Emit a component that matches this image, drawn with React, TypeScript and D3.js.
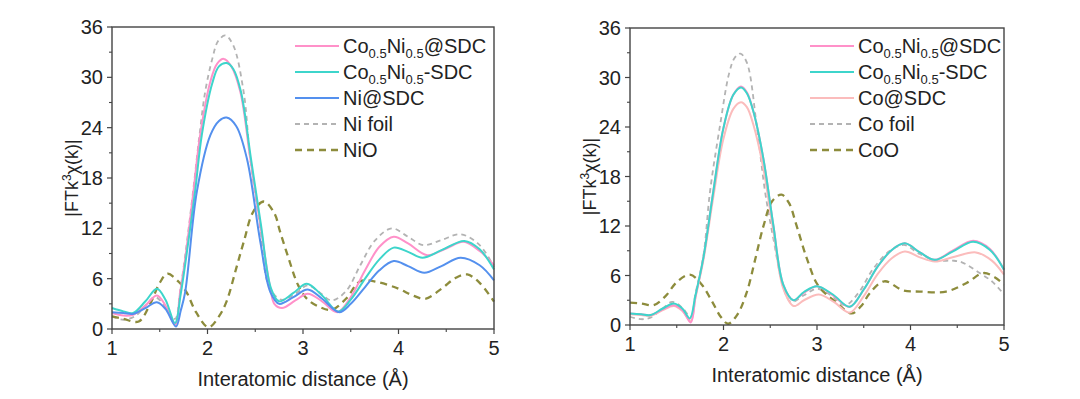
import * as d3 from "d3";
import { useEffect } from "react";

type Pt = [number, number];

// left panel: Ni K-edge
const niCoNiAt: Pt[] = [
  [1.0, 1.9], [1.12, 1.6], [1.22, 1.7], [1.35, 2.8], [1.47, 4.0], [1.56, 2.8], [1.66, 0.5],
  [1.714, 4.4], [1.767, 8.4], [1.853, 16.4], [1.923, 23.1], [2.03, 29.5], [2.1, 31.6], [2.17, 32.2],
  [2.25, 31.3], [2.343, 28.3], [2.448, 20.3], [2.553, 12.4], [2.658, 4.85], [2.7, 3.0], [2.78, 2.5],
  [2.92, 3.4], [3.05, 4.2], [3.2, 3.3], [3.36, 2.0], [3.5, 3.8], [3.65, 7.0], [3.8, 9.8], [3.95, 11.0],
  [4.1, 10.2], [4.3, 8.8], [4.5, 9.6], [4.68, 10.4], [4.85, 9.3], [5.0, 7.6],
];
const niCoNiDash: Pt[] = [
  [1.0, 2.5], [1.12, 2.1], [1.22, 1.9], [1.35, 3.3], [1.47, 4.8], [1.56, 3.5], [1.66, 0.7],
  [1.72, 4.2], [1.775, 8.4], [1.87, 16.4], [1.94, 23.1], [2.05, 29.3], [2.12, 31.3], [2.2, 31.7],
  [2.27, 31], [2.35, 28.3], [2.455, 20.3], [2.56, 12.4], [2.665, 4.85], [2.75, 3.3], [2.9, 4.3],
  [3.04, 5.4], [3.2, 4.0], [3.37, 2.1], [3.5, 3.5], [3.65, 6.0], [3.8, 8.3], [3.95, 9.7],
  [4.1, 9.2], [4.25, 8.5], [4.45, 9.4], [4.69, 10.5], [4.85, 9.5], [5.0, 7.1],
];
const niNiAt: Pt[] = [
  [1.0, 2.0], [1.12, 1.9], [1.22, 1.8], [1.35, 2.5], [1.47, 3.2], [1.56, 2.4], [1.67, 0.3],
  [1.72, 2.2], [1.766, 4.4], [1.889, 16.4], [2.03, 23.1], [2.12, 24.8], [2.2, 25.2], [2.3, 24.2],
  [2.413, 20.3], [2.553, 10.4], [2.658, 4.4], [2.75, 3.0], [2.9, 3.8], [3.05, 4.7],
  [3.2, 3.6], [3.38, 2.0], [3.5, 3.0], [3.65, 5.0], [3.8, 7.0], [3.95, 8.1], [4.1, 7.5],
  [4.27, 6.7], [4.45, 7.5], [4.65, 8.5], [4.85, 7.6], [5.0, 5.8],
];
const niFoil: Pt[] = [
  [1.0, 1.5], [1.12, 1.1], [1.25, 1.6], [1.35, 2.8], [1.45, 3.8], [1.55, 2.8], [1.66, 1.2],
  [1.714, 4.6], [1.767, 8.8], [1.853, 16.8], [1.916, 23.1], [1.976, 28.3], [2.05, 32.2], [2.11, 34.3],
  [2.186, 35.0], [2.27, 33.8], [2.378, 28.3], [2.448, 20.3], [2.553, 12.0], [2.64, 5.2], [2.77, 3.5],
  [2.92, 4.2], [3.05, 5.2], [3.18, 4.3], [3.3, 3.4], [3.45, 4.5], [3.6, 7.6], [3.75, 10.5],
  [3.93, 12.0], [4.1, 11], [4.26, 10], [4.45, 10.6], [4.65, 11.3], [4.85, 10], [5.0, 7.4],
];
const niO: Pt[] = [
  [1.0, 1.5], [1.12, 1.2], [1.28, 0.9], [1.4, 3.0], [1.5, 5.5], [1.58, 6.6], [1.7, 5.6],
  [1.78, 4.4], [1.88, 2.0], [2.01, 0.2], [2.12, 1.5], [2.2, 3.3], [2.3, 7.2], [2.38, 10.4],
  [2.48, 14.0], [2.59, 15.2], [2.7, 13.8], [2.76, 11.6], [2.85, 8.4], [2.95, 5.2], [3.05, 3.5],
  [3.18, 2.6], [3.3, 2.3], [3.45, 3.6], [3.6, 5.7], [3.78, 5.6], [4.0, 4.8], [4.15, 4.0],
  [4.28, 3.6], [4.45, 4.8], [4.6, 6.1], [4.72, 6.5], [4.85, 5.5], [5.0, 3.25],
];

// right panel: Co K-edge
const coCoNiAt: Pt[] = [
  [1.0, 1.4], [1.12, 1.3], [1.22, 1.2], [1.35, 1.9], [1.47, 2.4], [1.56, 1.8], [1.65, 0.3],
  [1.7, 3.4], [1.784, 8.1], [1.891, 16.2], [1.998, 23.8], [2.105, 27.9], [2.187, 28.9], [2.25, 28.2],
  [2.319, 25.9], [2.426, 20.2], [2.533, 12.1], [2.64, 4.85], [2.747, 3.0], [2.86, 3.9], [3.0, 4.7],
  [3.17, 3.6], [3.35, 2.2], [3.5, 4.3], [3.65, 7.1], [3.8, 9.1], [3.94, 9.9], [4.1, 8.8],
  [4.26, 7.9], [4.45, 9.0], [4.67, 10.2], [4.85, 9.2], [5.0, 6.7],
];
const coCoNiDash: Pt[] = [
  [1.0, 1.4], [1.12, 1.3], [1.22, 1.2], [1.35, 2.0], [1.47, 2.6], [1.56, 2.0], [1.64, 0.8],
  [1.7, 3.6], [1.784, 8.1], [1.891, 16.2], [1.998, 23.8], [2.105, 27.9], [2.187, 28.8], [2.25, 28.1],
  [2.319, 25.9], [2.426, 20.2], [2.533, 12.1], [2.64, 4.85], [2.747, 3.0], [2.86, 4.0], [3.0, 4.7],
  [3.17, 3.7], [3.35, 2.2], [3.5, 4.3], [3.65, 7.1], [3.8, 9.1], [3.94, 9.9], [4.1, 8.8],
  [4.26, 7.9], [4.45, 8.9], [4.67, 10.1], [4.85, 9.1], [5.0, 6.7],
];
const coCoAt: Pt[] = [
  [1.0, 1.3], [1.12, 1.2], [1.22, 1.1], [1.35, 1.8], [1.47, 2.3], [1.56, 1.7], [1.65, 0.5],
  [1.7, 3.3], [1.784, 7.8], [1.891, 15.5], [1.998, 22.5], [2.105, 26.2], [2.187, 27.0], [2.25, 26.4],
  [2.319, 24.3], [2.426, 19.0], [2.533, 11.4], [2.64, 4.4], [2.75, 2.3], [2.86, 3.0], [3.02, 3.7],
  [3.18, 2.8], [3.35, 1.5], [3.5, 3.5], [3.65, 6.2], [3.8, 8.1], [3.94, 8.9], [4.1, 8.2],
  [4.26, 7.7], [4.45, 8.2], [4.7, 8.8], [4.87, 7.8], [5.0, 6.1],
];
const coFoil: Pt[] = [
  [1.0, 1.0], [1.12, 0.7], [1.22, 0.9], [1.35, 2.0], [1.45, 2.8], [1.55, 2.2], [1.65, 1.0],
  [1.7, 3.8], [1.784, 8.3], [1.856, 16.2], [1.963, 24.2], [2.06, 30.5], [2.12, 32.4], [2.18, 32.9],
  [2.25, 31.8], [2.355, 24.2], [2.444, 16.2], [2.533, 10.5], [2.64, 4.6], [2.72, 2.8],
  [2.86, 3.6], [3.0, 4.4], [3.15, 3.6], [3.3, 2.4], [3.45, 4.0], [3.6, 6.8], [3.78, 9],
  [3.93, 9.7], [4.1, 8.6], [4.28, 7.8], [4.45, 7.8], [4.55, 7.6], [4.74, 6.3], [4.88, 5.2],
  [5.0, 3.7],
];
const coO: Pt[] = [
  [1.0, 2.7], [1.12, 2.6], [1.25, 2.4], [1.38, 3.5], [1.5, 5.2], [1.64, 6.1], [1.76, 5.0],
  [1.88, 2.8], [1.97, 1.0], [2.05, 0.15], [2.15, 1.3], [2.25, 4.0], [2.34, 8.0], [2.43, 12.1],
  [2.52, 15.0], [2.62, 15.8], [2.7, 14.8], [2.78, 12.1], [2.89, 8.1], [3.0, 5.0], [3.1, 3.7],
  [3.2, 2.8], [3.37, 1.4], [3.48, 2.4], [3.56, 3.8], [3.72, 5.3], [3.92, 4.2], [4.1, 4.05],
  [4.38, 4.05], [4.6, 5.1], [4.78, 6.3], [4.9, 5.8], [5.0, 4.9],
];

const yTicks = [0, 6, 12, 18, 24, 30, 36];
const xTicks = [1, 2, 3, 4, 5];

type Series = { label: string; sub?: boolean; sep?: string; data: Pt[]; color: string; width: number; dash?: string };

const pink = { color: "#ff91c9", width: 2 };
const cyan = { color: "#3dd5cb", width: 2 };
const blue = { color: "#5490ee", width: 2 };
const lightPink = { color: "#fbbcbc", width: 2 };
const grey = { color: "#b3b3b3", width: 1.8, dash: "5,4" };
const olive = { color: "#8d8c3c", width: 2.3, dash: "7,5" };

const leftSeries: Series[] = [
  { label: "Co0.5Ni0.5@SDC", sub: true, sep: "@SDC", data: niCoNiAt, ...pink },
  { label: "Co0.5Ni0.5-SDC", sub: true, sep: "-SDC", data: niCoNiDash, ...cyan },
  { label: "Ni@SDC", data: niNiAt, ...blue },
  { label: "Ni foil", data: niFoil, ...grey },
  { label: "NiO", data: niO, ...olive },
];
const rightSeries: Series[] = [
  { label: "Co0.5Ni0.5@SDC", sub: true, sep: "@SDC", data: coCoNiAt, ...pink },
  { label: "Co0.5Ni0.5-SDC", sub: true, sep: "-SDC", data: coCoNiDash, ...cyan },
  { label: "Co@SDC", data: coCoAt, ...lightPink },
  { label: "Co foil", data: coFoil, ...grey },
  { label: "CoO", data: coO, ...olive },
];

const FONT = "'Liberation Sans', Arial, Helvetica, sans-serif";
const INK = "#222";

function Panel({ x0, x1, yTop, yBot, legendX, series, order }: {
  x0: number; x1: number; yTop: number; yBot: number; legendX: number; series: Series[]; order: number[];
}) {
  const x = d3.scaleLinear().domain([1, 5]).range([x0, x1]);
  const y = d3.scaleLinear().domain([0, 36]).range([yBot, yTop]);
  const line = d3
    .line<Pt>()
    .x((d) => x(d[0]))
    .y((d) => y(d[1]))
    .curve(d3.curveCatmullRom.alpha(0.5));
  const xMinor = d3.range(1.5, 5, 1);
  const yMinor = d3.range(3, 36, 6);
  const cy = (yTop + yBot) / 2;
  const cx = (x0 + x1) / 2;

  return (
    <g fontFamily={FONT} fill={INK}>
      {order.map((i) => {
        const s = series[i];
        return (
          <path key={i} d={line(s.data) || ""} fill="none" stroke={s.color}
            strokeWidth={s.width} strokeDasharray={s.dash} strokeLinejoin="round" />
        );
      })}
      <rect x={x0} y={yTop} width={x1 - x0} height={yBot - yTop} fill="none" stroke="#444" strokeWidth={1.4} />
      {yTicks.map((t) => (
        <g key={"y" + t}>
          <line x1={x0 - 5} x2={x0} y1={y(t)} y2={y(t)} stroke="#444" strokeWidth={1.2} />
          <text x={x0 - 9} y={y(t)} textAnchor="end" dominantBaseline="central" fontSize={20}>{t}</text>
        </g>
      ))}
      {yMinor.map((t) => (
        <line key={"ym" + t} x1={x0 - 3} x2={x0} y1={y(t)} y2={y(t)} stroke="#444" strokeWidth={1.1} />
      ))}
      {xTicks.map((t) => (
        <g key={"x" + t}>
          <line x1={x(t)} x2={x(t)} y1={yBot} y2={yBot + 5} stroke="#444" strokeWidth={1.2} />
          <text x={x(t)} y={yBot + 26} textAnchor="middle" fontSize={20}>{t}</text>
        </g>
      ))}
      {xMinor.map((t) => (
        <line key={"xm" + t} x1={x(t)} x2={x(t)} y1={yBot} y2={yBot + 3} stroke="#444" strokeWidth={1.1} />
      ))}
      <text x={cx} y={yBot + 57} textAnchor="middle" fontSize={20}>Interatomic distance (Å)</text>
      <text transform={`translate(${x0 - 34},${cy}) rotate(-90)`} textAnchor="middle" fontSize={18}>
        |FTk<tspan dy={-7} fontSize={12}>3</tspan><tspan dy={7}>χ(k)|</tspan>
      </text>
      {series.map((s, i) => {
        const ry = 46 + i * 26;
        return (
          <g key={"l" + i}>
            <line x1={legendX} x2={legendX + 44} y1={ry} y2={ry} stroke={s.color}
              strokeWidth={s.width} strokeDasharray={s.dash} />
            {s.sub ? (
              <text x={legendX + 48} y={ry + 7} fontSize={20}>
                Co<tspan dy={5} fontSize={13}>0.5</tspan>
                <tspan dy={-5}>Ni</tspan>
                <tspan dy={5} fontSize={13}>0.5</tspan>
                <tspan dy={-5}>{s.sep}</tspan>
              </text>
            ) : (
              <text x={legendX + 48} y={ry + 7} fontSize={20}>{s.label}</text>
            )}
          </g>
        );
      })}
    </g>
  );
}

export default function App() {
  useEffect(() => {
    document.body.style.margin = "0";
  }, []);
  return (
    <svg width={1080} height={399} style={{ display: "block", background: "#fff" }}>
      <rect width={1080} height={399} fill="#fff" />
      <Panel x0={112} x1={494} yTop={27} yBot={329} legendX={295} series={leftSeries} order={[3, 4, 0, 1, 2]} />
      <Panel x0={630} x1={1004} yTop={28} yBot={325} legendX={810} series={rightSeries} order={[3, 4, 2, 0, 1]} />
    </svg>
  );
}
